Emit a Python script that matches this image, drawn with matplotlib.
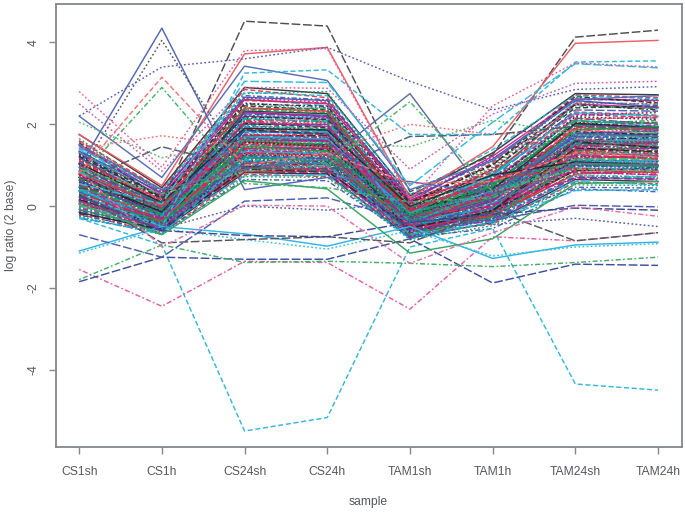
import matplotlib
matplotlib.use('Agg')
import matplotlib.pyplot as plt

samples = ['CS1sh', 'CS1h', 'CS24sh', 'CS24h', 'TAM1sh', 'TAM1h', 'TAM24sh', 'TAM24h']
y_ticks = [-4, -2, 0, 2, 4]

# the lines that stand clear of the main band
outlier_rows = [
    [0.45, 0.10, 4.52, 4.40, 0.35, 1.25, 4.13, 4.30],
    [1.75, 0.50, 3.72, 3.88, 0.20, 1.45, 3.98, 4.05],
    [0.95, 4.35, 0.40, 0.70, 0.60, 0.30, 1.75, 1.70],
    [0.80, 4.05, 0.95, 1.10, 0.30, 0.40, 1.60, 1.55],
    [2.20, 3.40, 3.60, 3.88, 3.05, 2.35, 2.85, 2.92],
    [2.20, 0.70, 3.42, 3.07, 0.40, 1.10, 2.60, 2.70],
    [1.50, 0.40, 0.90, 1.15, 2.75, 0.05, 1.05, 1.00],
    [0.90, 0.30, 0.85, 1.00, 2.55, 0.35, 0.90, 0.85],
    [0.80, 3.15, 1.00, 1.30, 0.55, 0.60, 1.30, 1.20],
    [0.70, 2.90, 0.55, 0.45, 0.10, 0.20, 1.15, 1.15],
    [1.40, 1.72, 1.45, 1.30, 2.00, 1.75, 1.85, 1.80],
    [2.05, 1.18, 1.60, 1.55, 1.45, 2.10, 1.75, 1.65],
    [0.60, 1.45, 0.95, 0.85, 1.70, 1.75, 1.95, 1.90],
    [0.30, -0.50, 3.25, 3.33, 1.75, 1.75, 3.52, 3.55],
    [0.55, 0.05, 3.05, 3.02, 0.50, 2.05, 3.48, 3.38],
    [2.80, 0.95, 3.80, 3.85, 0.15, 2.45, 3.50, 3.40],
    [2.50, 0.85, 2.90, 2.88, 0.90, 2.25, 3.00, 3.05],
    [-0.30, -0.95, -5.50, -5.17, -1.00, -0.55, -4.35, -4.50],
    [-1.55, -2.45, -1.35, -1.38, -2.52, -0.75, -0.85, -0.65],
    [-1.85, -1.25, -1.30, -1.30, -0.80, -1.88, -1.42, -1.45],
    [-1.80, -0.95, -1.38, -1.35, -1.40, -1.48, -1.38, -1.25],
    [-1.10, -0.50, -0.68, -0.98, -0.50, -1.28, -0.95, -0.88],
    [-1.15, -0.55, -0.82, -1.05, -0.60, -1.22, -1.00, -0.92],
    [-0.70, -1.25, 0.12, 0.20, -0.35, -0.35, 0.02, -0.02],
    [0.30, -0.90, -0.82, -0.75, -0.90, -0.10, -0.85, -0.65],
    [0.10, -0.55, 0.00, -0.10, 0.10, -0.45, -0.30, -0.50],
    [0.25, -0.60, -0.72, -0.75, -0.40, -0.20, -0.05, -0.10],
    [0.05, -0.70, 0.62, 0.42, -1.15, -0.80, 0.55, 0.60],
    [0.85, -1.00, 0.02, 0.00, -1.40, -0.65, -0.02, -0.25],
]
outlier_colors = ['#4f4f55', '#ec5f66', '#5567b5', '#55555f', '#5a5fb8', '#5a70b5', '#5f6f9f', '#55b56f',
                  '#ee7777', '#45b56a', '#e96f78', '#55b56f', '#4f5f6f', '#35b5dc', '#35bbdc', '#e85f9f',
                  '#c65fb0', '#35b8d8', '#e45fa5', '#3f4f9f', '#45ae68', '#35b5e5', '#35c0dc', '#4f5fb0',
                  '#55555f', '#4f60b0', '#3f4a8f', '#3aa565', '#e36fa5']
outlier_styles = ['long', 'solid', 'solid', 'dotted', 'dotted', 'solid', 'solid', 'dashdot',
                  'dashed', 'dashdot', 'dotted', 'dotted', 'long', 'dashed', 'long', 'dotted',
                  'dotted', 'dashed', 'dashdot', 'long', 'dashdot', 'solid', 'dotted', 'long',
                  'long', 'dotted', 'long', 'solid', 'dashdot']

# the dense band
band_rows = [
    [1.75, 0.45, 2.90, 2.75, 0.25, 1.30, 2.75, 2.72],
    [1.60, 0.40, 2.85, 2.65, 0.10, 1.05, 2.72, 2.65],
    [1.65, 0.30, 2.75, 2.80, 0.00, 0.95, 2.65, 2.55],
    [1.50, 0.35, 2.70, 2.60, 0.20, 1.10, 2.60, 2.60],
    [1.45, 0.20, 2.62, 2.45, -0.05, 0.85, 2.55, 2.48],
    [1.30, 0.25, 2.60, 2.50, 0.15, 0.75, 2.50, 2.40],
    [1.55, 0.15, 2.45, 2.35, -0.10, 0.90, 2.40, 2.45],
    [1.25, 0.10, 2.40, 2.30, 0.05, 0.65, 2.05, 2.05],
    [1.35, 0.20, 2.35, 2.40, -0.15, 0.70, 2.00, 2.10],
    [1.20, 0.05, 2.25, 2.20, -0.05, 0.60, 2.15, 2.00],
    [1.40, 0.00, 2.20, 2.15, -0.20, 0.80, 2.10, 1.95],
    [1.10, 0.10, 2.20, 2.10, -0.10, 0.55, 1.95, 2.05],
    [1.15, -0.05, 2.15, 2.05, 0.00, 0.50, 2.05, 1.90],
    [1.05, 0.05, 2.10, 2.05, -0.25, 0.65, 1.90, 1.85],
    [1.00, -0.10, 2.05, 1.95, -0.15, 0.45, 1.85, 1.95],
    [1.20, 0.00, 2.00, 2.00, -0.30, 0.55, 2.00, 1.88],
    [0.95, -0.05, 1.95, 1.90, -0.20, 0.40, 1.80, 1.82],
    [1.10, -0.15, 1.95, 1.85, -0.05, 0.50, 1.78, 1.90],
    [0.90, -0.10, 1.90, 1.85, -0.35, 0.35, 1.75, 1.75],
    [1.00, 0.00, 1.88, 1.80, -0.25, 0.48, 1.88, 1.70],
    [0.85, -0.20, 1.85, 1.75, -0.10, 0.30, 1.70, 1.78],
    [0.80, -0.05, 1.80, 1.80, -0.30, 0.42, 1.72, 1.65],
    [0.95, -0.15, 1.78, 1.70, -0.40, 0.25, 1.65, 1.72],
    [0.75, -0.10, 1.75, 1.68, -0.15, 0.38, 1.68, 1.62],
    [0.90, -0.25, 1.72, 1.72, -0.28, 0.22, 1.60, 1.68],
    [0.70, -0.18, 1.70, 1.62, -0.38, 0.33, 1.62, 1.58],
    [0.85, -0.08, 1.68, 1.60, -0.22, 0.18, 1.58, 1.55],
    [0.65, -0.22, 1.65, 1.65, -0.45, 0.28, 1.55, 1.60],
    [0.72, -0.30, 1.62, 1.55, -0.32, 0.15, 1.52, 1.50],
    [0.60, -0.12, 1.60, 1.58, -0.18, 0.24, 1.50, 1.52],
    [0.78, -0.26, 1.58, 1.50, -0.42, 0.12, 1.55, 1.45],
    [0.55, -0.20, 1.55, 1.52, -0.27, 0.20, 1.45, 1.48],
    [0.68, -0.34, 1.52, 1.45, -0.50, 0.08, 1.42, 1.44],
    [0.50, -0.16, 1.50, 1.48, -0.36, 0.16, 1.48, 1.40],
    [0.62, -0.28, 1.48, 1.42, -0.24, 0.05, 1.40, 1.38],
    [0.45, -0.38, 1.45, 1.40, -0.46, 0.14, 1.38, 1.42],
    [0.58, -0.24, 1.42, 1.38, -0.33, 0.02, 1.35, 1.35],
    [0.48, -0.32, 1.40, 1.35, -0.55, 0.10, 1.32, 1.30],
    [0.40, -0.20, 1.38, 1.36, -0.40, -0.02, 1.30, 1.33],
    [0.52, -0.40, 1.35, 1.30, -0.29, 0.06, 1.28, 1.26],
    [0.38, -0.30, 1.32, 1.28, -0.48, -0.05, 1.25, 1.28],
    [0.44, -0.26, 1.30, 1.25, -0.52, 0.00, 1.22, 1.22],
    [0.35, -0.42, 1.28, 1.26, -0.37, -0.08, 1.20, 1.18],
    [0.42, -0.36, 1.25, 1.20, -0.60, -0.04, 1.18, 1.20],
    [0.30, -0.28, 1.22, 1.18, -0.44, -0.12, 1.15, 1.15],
    [0.36, -0.46, 1.20, 1.16, -0.34, -0.07, 1.12, 1.10],
    [0.25, -0.34, 1.18, 1.12, -0.56, -0.15, 1.10, 1.12],
    [0.32, -0.44, 1.15, 1.10, -0.64, -0.10, 1.08, 1.05],
    [0.20, -0.38, 1.12, 1.08, -0.41, -0.18, 1.05, 1.02],
    [0.28, -0.50, 1.10, 1.05, -0.58, -0.14, 1.02, 1.00],
    [0.15, -0.40, 1.08, 1.02, -0.47, -0.22, 1.00, 0.98],
    [0.22, -0.48, 1.05, 1.00, -0.68, -0.17, 0.98, 0.95],
    [0.10, -0.44, 1.02, 0.98, -0.53, -0.25, 0.95, 0.92],
    [0.18, -0.54, 1.00, 0.95, -0.62, -0.20, 0.92, 0.90],
    [0.05, -0.46, 0.98, 0.92, -0.49, -0.28, 0.90, 0.88],
    [0.12, -0.58, 0.95, 0.90, -0.72, -0.24, 0.88, 0.82],
    [0.00, -0.50, 0.92, 0.88, -0.66, -0.30, 0.82, 0.85],
    [0.08, -0.56, 0.90, 0.85, -0.57, -0.27, 0.80, 0.78],
    [-0.05, -0.62, 0.88, 0.82, -0.75, -0.33, 0.75, 0.72],
    [-0.10, -0.52, 0.85, 0.80, -0.61, -0.36, 0.70, 0.68],
    [-0.15, -0.60, 0.82, 0.78, -0.78, -0.40, 0.65, 0.60],
    [-0.20, -0.66, 0.78, 0.72, -0.70, -0.44, 0.58, 0.55],
    [-0.25, -0.70, 0.72, 0.70, -0.82, -0.48, 0.52, 0.50],
    [-0.30, -0.64, 0.65, 0.62, -0.76, -0.55, 0.42, 0.35],
    [1.30, -0.02, 1.82, 1.78, -0.12, 0.58, 1.62, 1.50],
    [1.02, -0.17, 1.58, 1.62, -0.31, 0.36, 1.46, 1.56],
    [0.88, -0.07, 2.02, 1.92, -0.08, 0.44, 1.82, 1.74],
    [0.66, -0.33, 1.76, 1.68, -0.43, 0.11, 1.44, 1.36],
    [0.54, -0.23, 1.44, 1.54, -0.26, 0.26, 1.34, 1.46],
    [0.34, -0.31, 1.66, 1.58, -0.51, 0.03, 1.24, 1.16],
    [0.46, -0.43, 1.92, 1.82, -0.35, -0.06, 1.56, 1.64],
    [0.24, -0.35, 1.36, 1.32, -0.54, -0.11, 1.16, 1.24],
    [0.76, -0.13, 1.26, 1.22, -0.21, 0.31, 1.06, 1.08],
    [0.14, -0.47, 1.54, 1.46, -0.63, -0.16, 1.36, 1.28],
    [1.08, -0.09, 2.12, 2.08, -0.19, 0.52, 1.98, 1.80],
    [0.64, -0.27, 2.28, 2.22, -0.39, 0.17, 1.76, 1.84],
    [0.82, -0.19, 1.34, 1.28, -0.13, 0.27, 1.14, 1.06],
    [0.04, -0.53, 1.16, 1.14, -0.59, -0.21, 0.96, 1.04],
    [0.26, -0.41, 0.96, 1.06, -0.67, -0.09, 0.86, 0.94],
    [0.56, -0.37, 1.06, 0.96, -0.23, -0.01, 1.26, 1.14],
    [-0.08, -0.57, 1.46, 1.34, -0.71, -0.26, 1.04, 0.96],
    [1.18, 0.02, 1.74, 1.66, -0.06, 0.62, 1.66, 1.76],
    [0.92, -0.11, 1.24, 1.14, -0.16, 0.34, 1.32, 1.24],
    [0.74, -0.29, 2.08, 1.98, -0.37, 0.19, 1.92, 1.98],
    [0.16, -0.49, 1.86, 1.76, -0.65, -0.13, 1.58, 1.42],
    [0.06, -0.39, 0.84, 0.86, -0.53, -0.23, 0.78, 0.86],
    [0.38, -0.45, 1.64, 1.44, -0.69, -0.03, 1.50, 1.54],
    [1.28, 0.12, 2.52, 2.40, 0.02, 0.72, 1.70, 1.60],
    [-0.02, -0.42, 1.14, 1.24, -0.45, -0.19, 0.62, 0.74],
    [0.50, -0.55, 1.40, 1.42, -0.77, 0.04, 0.68, 0.66],
    [0.70, -0.15, 2.32, 2.26, -0.11, 0.41, 2.02, 1.92],
    [1.12, 0.08, 2.58, 2.52, 0.08, 0.82, 2.30, 2.22],
    [0.86, -0.04, 2.48, 2.36, -0.03, 0.46, 2.20, 2.28],
    [-0.12, -0.59, 1.04, 0.90, -0.74, -0.31, 0.46, 0.44],
    [0.42, -0.51, 0.74, 0.76, -0.80, -0.38, 0.38, 0.40],
    # rows that widen the band after TAM1sh
    [1.48, 0.28, 2.30, 2.18, 0.12, 1.22, 2.62, 2.58],
    [1.22, 0.18, 2.18, 2.12, 0.06, 1.00, 2.68, 2.52],
    [1.16, 0.14, 2.06, 2.02, -0.02, 0.92, 2.52, 2.50],
    [0.98, 0.06, 1.98, 1.88, -0.07, 0.78, 2.45, 2.38],
    [0.94, 0.03, 1.84, 1.74, -0.14, 0.68, 2.35, 2.32],
    [0.84, -0.01, 1.70, 1.64, -0.17, 0.74, 2.28, 2.20],
    [0.72, -0.06, 1.62, 1.60, -0.09, 0.60, 2.25, 2.15],
    [0.60, -0.14, 1.56, 1.46, -0.27, 0.57, 2.18, 2.12],
    [1.06, 0.16, 1.50, 1.44, 0.04, 0.88, 2.12, 2.18],
    [0.46, -0.21, 1.44, 1.34, -0.24, 0.49, 2.08, 2.02],
    [1.34, 0.32, 2.66, 2.58, 0.18, 1.15, 2.58, 2.42],
    [1.42, 0.38, 2.78, 2.70, 0.28, 1.38, 2.70, 2.62],
    [1.58, 0.34, 2.64, 2.54, 0.22, 1.18, 2.22, 2.30],
    [1.26, 0.22, 2.50, 2.44, 0.09, 1.02, 2.48, 2.35],
    [0.30, -0.33, 1.30, 1.24, -0.49, 0.29, 1.92, 1.86],
    [0.22, -0.37, 1.18, 1.10, -0.36, 0.21, 1.86, 1.94],
    [0.12, -0.43, 1.10, 1.02, -0.58, 0.13, 1.78, 1.70],
    [0.02, -0.47, 1.00, 0.94, -0.44, 0.07, 1.68, 1.58],
    [-0.04, -0.52, 0.94, 0.88, -0.65, -0.03, 1.60, 1.52],
    [-0.18, -0.56, 0.90, 0.84, -0.54, -0.12, 1.42, 1.32],
    [0.78, 0.01, 2.40, 2.32, -0.13, 0.64, 1.30, 1.22],
    [0.68, -0.09, 2.36, 2.28, -0.21, 0.56, 1.10, 1.02],
    [0.58, -0.17, 2.22, 2.16, -0.28, 0.47, 1.00, 0.92],
    [0.36, -0.25, 2.14, 2.06, -0.41, 0.39, 0.94, 0.88],
    [0.20, -0.31, 2.04, 1.94, -0.47, 0.32, 0.84, 0.76],
    [1.04, 0.09, 1.90, 1.86, -0.01, 0.76, 1.08, 1.00],
    [0.88, -0.03, 1.72, 1.76, -0.08, 0.66, 0.92, 0.80],
    [0.48, -0.19, 1.60, 1.52, -0.30, 0.43, 0.74, 0.70],
    [-0.22, -0.61, 1.24, 1.16, -0.59, -0.32, 0.72, 0.64],
    [-0.28, -0.68, 1.12, 1.04, -0.69, -0.42, 0.60, 0.52],
]

palette = ['#25252b', '#e82a3c', '#0fa052', '#3a52ac', '#16b3d4', '#c4188c']
style_names = ['solid', 'dashed', 'dotted', 'dashdot', 'long']
line_styles = {'solid': '-', 'dashed': (0, (3.5, 1.8)), 'dotted': (0, (1.2, 1.6)),
               'dashdot': (0, (1.2, 1.6, 3.5, 1.6)), 'long': (0, (6, 1.8))}
frame_grey = '#84888c'
text_grey = '#55585c'

plt.rcParams['font.family'] = ['Liberation Sans', 'DejaVu Sans']

fig = plt.figure(figsize=(6.85, 5.13), dpi=100)
ax = fig.add_axes([56 / 685, 66 / 513, 626 / 685, 443 / 513])

x = list(range(1, len(samples) + 1))
for i, row in enumerate(band_rows):
    ax.plot(x, row, color=palette[i % 6], linestyle=line_styles[style_names[i % 5]], lw=1.05, alpha=0.9)
for row, c, s in zip(outlier_rows, outlier_colors, outlier_styles):
    ax.plot(x, row, color=c, linestyle=line_styles[s], lw=1.05)

ax.set_xlim(0.72, 8.29)
ax.set_ylim(-5.89, 4.94)
ax.set_xticks(x)
ax.set_xticklabels(samples)
ax.set_yticks(y_ticks)
ax.set_yticklabels([str(v) for v in y_ticks], rotation=90, va='center')
ax.tick_params(axis='both', length=5, width=1, color=frame_grey, labelcolor=text_grey, labelsize=8.7)
ax.tick_params(axis='x', pad=9)
ax.tick_params(axis='y', pad=7)
for side in ax.spines.values():
    side.set_color(frame_grey)
    side.set_linewidth(1.3)

fig.text(368 / 685, 1 - 502 / 513, 'sample', ha='center', va='center', color=text_grey, fontsize=8.7)
fig.text(11 / 685, 1 - 225 / 513, 'log ratio (2 base)', ha='center', va='center', rotation=90,
         color=text_grey, fontsize=8.7)

fig.savefig('out.png', dpi=100)
